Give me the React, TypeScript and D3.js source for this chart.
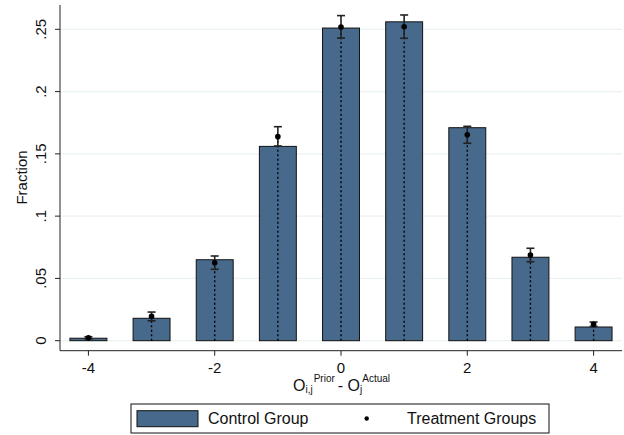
import React from "react";
import * as d3 from "d3";

// difference between prior and actual outcome
const diffs = [-4, -3, -2, -1, 0, 1, 2, 3, 4];
// control group fractions (bars)
const control = [0.002, 0.018, 0.065, 0.156, 0.251, 0.256, 0.171, 0.067, 0.011];
// treatment groups: point estimate and confidence interval
const treatment = [0.0024, 0.0195, 0.0626, 0.1638, 0.2518, 0.2521, 0.1654, 0.0688, 0.0132];
const lower = [0.0015, 0.016, 0.0573, 0.1563, 0.243, 0.2428, 0.1585, 0.0634, 0.0115];
const upper = [0.0032, 0.023, 0.068, 0.1718, 0.261, 0.2615, 0.1721, 0.0742, 0.015];

const yTicks = [0, 0.05, 0.1, 0.15, 0.2, 0.25];
const yTickLabels = ["0", ".05", ".1", ".15", ".2", ".25"];
const xTicks = [-4, -2, 0, 2, 4];

const W = 624;
const H = 435;
const LEFT = 60;
const RIGHT = 622;
const TOP = 5;
const ZERO_Y = 340.7;
const AXIS_Y = 350.7;
const BAR_W = 0.585;
const BAR_COLOR = "#476a8c";
const FONT = "'Liberation Sans', Arial, sans-serif";

const App = () => {
  const x = d3.scaleLinear().domain([-4.45, 4.45]).range([LEFT, RIGHT]);
  const y = d3.scaleLinear().domain([0, 0.25]).range([ZERO_Y, 29.3]);
  const bw = x(BAR_W) - x(0);

  return (
    <svg
      width={W}
      height={H}
      style={{ position: "absolute", left: 0, top: 0, background: "white" }}
      fontFamily={FONT}
    >
      {/* gridlines */}
      {yTicks.map((t) => (
        <line key={t} x1={LEFT} x2={RIGHT} y1={y(t)} y2={y(t)} stroke="#eaf2f3" strokeWidth={1.2} />
      ))}

      {/* control bars */}
      {diffs.map((d, i) => (
        <rect
          key={d}
          x={x(d) - bw / 2}
          y={y(control[i])}
          width={bw}
          height={y(0) - y(control[i])}
          fill={BAR_COLOR}
          stroke="#111"
          strokeWidth={1}
        />
      ))}

      {/* dotted droplines */}
      {diffs.map((d, i) => (
        <line
          key={d}
          x1={x(d)}
          x2={x(d)}
          y1={y(0)}
          y2={y(treatment[i])}
          stroke="#000"
          strokeWidth={1.4}
          strokeDasharray="2,2.5"
        />
      ))}

      {/* confidence intervals */}
      {diffs.map((d, i) => (
        <g key={d} stroke="#222" strokeWidth={1.6}>
          <line x1={x(d)} x2={x(d)} y1={y(lower[i])} y2={y(upper[i])} />
          <line x1={x(d) - 4} x2={x(d) + 4} y1={y(lower[i])} y2={y(lower[i])} />
          <line x1={x(d) - 4} x2={x(d) + 4} y1={y(upper[i])} y2={y(upper[i])} />
        </g>
      ))}

      {/* treatment points */}
      {diffs.map((d, i) => (
        <circle key={d} cx={x(d)} cy={y(treatment[i])} r={2.8} fill="#000" />
      ))}

      {/* axes */}
      <line x1={LEFT} x2={LEFT} y1={TOP} y2={AXIS_Y} stroke="#222" strokeWidth={1} />
      <line x1={LEFT} x2={RIGHT} y1={AXIS_Y} y2={AXIS_Y} stroke="#222" strokeWidth={1} />

      {yTicks.map((t, i) => (
        <g key={t}>
          <line x1={LEFT - 5} x2={LEFT} y1={y(t)} y2={y(t)} stroke="#222" />
          <text
            transform={`translate(45.5, ${y(t)}) rotate(-90)`}
            textAnchor="middle"
            fontSize={15}
            fill="#111"
          >
            {yTickLabels[i]}
          </text>
        </g>
      ))}

      {xTicks.map((t) => (
        <g key={t}>
          <line x1={x(t)} x2={x(t)} y1={AXIS_Y} y2={AXIS_Y + 5} stroke="#222" />
          <text x={x(t)} y={372.5} textAnchor="middle" fontSize={15} fill="#111">
            {t}
          </text>
        </g>
      ))}

      {/* axis titles */}
      <text transform={`translate(26.5, 177.5) rotate(-90)`} textAnchor="middle" fontSize={15} fill="#111">
        Fraction
      </text>
      <text x={293} y={391} fontSize={16} fill="#111">
        <tspan>O</tspan>
        <tspan fontSize={10} dy={2}>i,j</tspan>
        <tspan fontSize={10} dy={-11} dx={1}>Prior</tspan>
        <tspan dy={9} dx={3}>- O</tspan>
        <tspan fontSize={10} dy={2}>j</tspan>
        <tspan fontSize={10} dy={-11}>Actual</tspan>
      </text>

      {/* legend */}
      <rect x={131} y={404} width={418} height={29} fill="white" stroke="#111" strokeWidth={1} />
      <rect x={137} y={410.7} width={61} height={16} fill={BAR_COLOR} stroke="#111" strokeWidth={1} />
      <text x={208} y={424} fontSize={16} fill="#111">Control Group</text>
      <circle cx={366.7} cy={418.5} r={2.2} fill="#000" />
      <text x={407} y={424} fontSize={16} fill="#111">Treatment Groups</text>
    </svg>
  );
};

export default App;
